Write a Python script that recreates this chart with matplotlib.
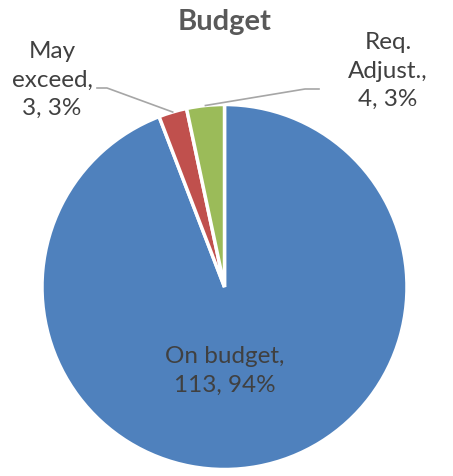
import numpy as np
import matplotlib.pyplot as plt

labels = ["On budget", "May exceed", "Req. Adjust."]
counts = [113, 3, 4]
colors = ["#4F81BD", "#C0504D", "#9BBB59"]

W, H = 453, 476
cx, cy, r = 224.5, H - 287, 182.5

fig = plt.figure(figsize=(W / 100, H / 100), dpi=100)
ax = fig.add_axes([0, 0, 1, 1])

wedges, _ = ax.pie(counts, colors=colors, startangle=90, counterclock=False,
                   center=(cx, cy), radius=r, frame=True,
                   wedgeprops=dict(edgecolor="white", linewidth=2.5))
ax.set_xlim(0, W)
ax.set_ylim(0, H)
ax.axis("off")

total = sum(counts)
# excel style rounding (2.5 -> 3)
pct = [f"{int(c / total * 100 + 0.5)}%" for c in counts]
font = "Lato"
txt = "#404040"
fs = 17.5
ls = 1.45

ax.text(cx, H - 22, "Budget", ha="center", va="center", fontsize=21,
        fontweight="bold", color="#595959", family=font)

# inside label
ax.text(cx, H - 371, f"{labels[0]},\n{counts[0]}, {pct[0]}", ha="center",
        va="center", fontsize=fs, color=txt, family=font, linespacing=ls)

# outside labels with leader lines
ax.text(52, H - 80, f"May\nexceed,\n{counts[1]}, {pct[1]}", ha="center",
        va="center", fontsize=fs, color=txt, family=font, linespacing=ls)
ax.text(388, H - 71, f"Req.\nAdjust.,\n{counts[2]}, {pct[2]}", ha="center",
        va="center", fontsize=fs, color=txt, family=font, linespacing=ls)

def mid_point(w, frac=1.0):
    a = np.deg2rad((w.theta1 + w.theta2) / 2)
    return cx + frac * r * np.cos(a), cy + frac * r * np.sin(a)

x1, y1 = mid_point(wedges[1])
ax.plot([97, 107, x1], [H - 88, H - 88, y1], color="#A6A6A6", lw=1.2)
x2, y2 = mid_point(wedges[2])
ax.plot([x2, 305, 319], [y2, H - 89, H - 89], color="#A6A6A6", lw=1.2)

plt.savefig("out.png", dpi=100)
